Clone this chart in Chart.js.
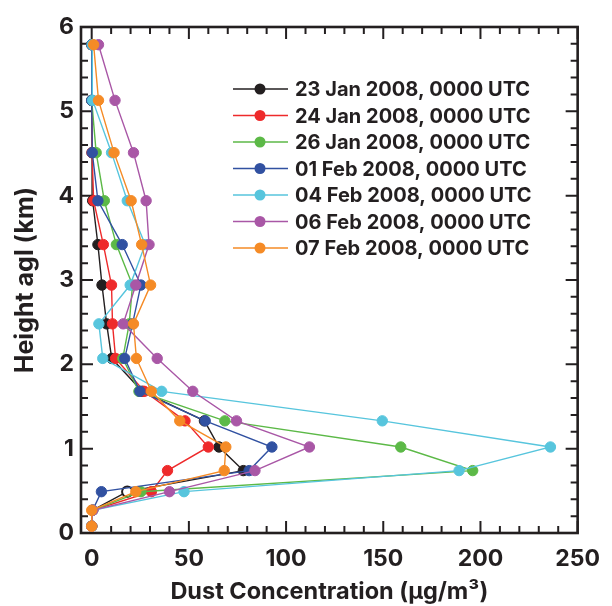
<!DOCTYPE html>
<html>
<head>
<meta charset="utf-8">
<script src="https://cdn.jsdelivr.net/npm/chart.js@4.4.1/dist/chart.umd.min.js"></script>
<style>
  html, body { margin: 0; padding: 0; background: #fff; }
  canvas { display: block; }
</style>
</head>
<body>
<canvas id="chart" width="612" height="606"></canvas>
<script>
// profile levels, km agl
var heights = [0.08, 0.27, 0.49, 0.74, 1.02, 1.33, 1.68, 2.07, 2.48, 2.94, 3.42, 3.94, 4.51, 5.13, 5.79]

// dust concentration (ug/m3) at each level, one list per sounding
var jan23 = [0, 0.5, 18.3, 78, 65.5, 58, 26, 10.3, 7.7, 5.3, 3.2, 0.5, 0.2, 0, 0]
var jan24 = [0, 0.5, 30.7, 39, 60, 48, 27, 12.3, 10.7, 10.2, 6, 1, 0.2, 0, 0]
var jan26 = [0, 0.5, 25.3, 196, 159, 68.5, 24.3, 16, 19.3, 21, 12.7, 6.5, 2.3, 0, 0]
var feb01 = [0, 0.5, 5, 81, 92.7, 58.4, 24.8, 17, 21, 25.3, 15.7, 3.2, 0.3, 0, 0]
var feb04 = [0, 0.5, 47.5, 189, 236, 149.5, 36, 5.7, 3.7, 19.8, 27.5, 18.3, 10.2, 0.5, 0.3]
var feb06 = [0, 0.5, 40, 84, 112, 74.5, 52, 33.7, 16.2, 22.7, 29.5, 28, 21.5, 12, 3.5]
var feb07 = [0, 0, 22.7, 68.2, 69, 45.3, 30.7, 23, 21.5, 30.3, 25.7, 20.3, 11.5, 3.5, 1]

var series = [jan23, jan24, jan26, feb01, feb04, feb06, feb07]
var labels = [
	'23 Jan 2008, 0000 UTC',
	'24 Jan 2008, 0000 UTC',
	'26 Jan 2008, 0000 UTC',
	'01 Feb 2008, 0000 UTC',
	'04 Feb 2008, 0000 UTC',
	'06 Feb 2008, 0000 UTC',
	'07 Feb 2008, 0000 UTC',
]
var colors = ['#231f20', '#ee2a2b', '#5cb947', '#3151a1', '#57c5dd', '#a957a6', '#f58b26']

var xTicks = [0, 50, 100, 150, 200, 250]
var yTicks = [0, 1, 2, 3, 4, 5, 6]

var FONT = "'Inter', 'Liberation Sans', Arial, sans-serif"
var INK = '#231f20'

// black sounding has one hollow marker at 0.49 km
function pointFill(color, i) {
	return function (c) {
		return i === 0 && c.dataIndex === 2 ? '#ffffff' : color
	}
}

var datasets = series.map(function (vals, i) {
	return {
		label: labels[i],
		data: vals.map(function (v, k) { return { x: v, y: heights[k] } }),
		showLine: true,
		borderColor: colors[i],
		borderWidth: 1.4,
		pointRadius: 5.2,
		pointBackgroundColor: pointFill(colors[i], i),
		pointBorderColor: colors[i],
		pointBorderWidth: function (c) { return i === 0 && c.dataIndex === 2 ? 2 : 1 },
		order: series.length - i,
	}
})

// box around the plot with inward ticks on all four sides
var framePlugin = {
	id: 'frame',
	beforeDatasetsDraw: function (chart) {
		var ctx = chart.ctx, a = chart.chartArea
		var xs = chart.scales.x, ys = chart.scales.y
		ctx.save()
		ctx.strokeStyle = INK
		ctx.lineWidth = 2
		ctx.beginPath()
		for (var v = 0; v <= 250; v += 10) {
			var px = xs.getPixelForValue(v)
			var len = v % 50 === 0 ? 12 : 7
			ctx.moveTo(px, a.bottom); ctx.lineTo(px, a.bottom - len)
			ctx.moveTo(px, a.top); ctx.lineTo(px, a.top + len)
		}
		for (var k = 0; k <= 30; k++) {
			var py = ys.getPixelForValue(k / 5)
			var ln = k % 5 === 0 ? 12 : 7
			ctx.moveTo(a.left, py); ctx.lineTo(a.left + ln, py)
			ctx.moveTo(a.right, py); ctx.lineTo(a.right - ln, py)
		}
		ctx.stroke()
		ctx.lineWidth = 2.6
		ctx.strokeRect(a.left, a.top, a.right - a.left, a.bottom - a.top)
		ctx.restore()
	},
}

// legend inside the plot: short line with a marker, then the label
var legendPlugin = {
	id: 'insideLegend',
	afterDatasetsDraw: function (chart) {
		var ctx = chart.ctx
		ctx.save()
		ctx.font = 'bold 20px ' + FONT
		ctx.textBaseline = 'middle'
		ctx.textAlign = 'left'
		for (var i = 0; i < labels.length; i++) {
			var y = 89 + i * 26.5
			ctx.strokeStyle = colors[i]
			ctx.lineWidth = 1.4
			ctx.beginPath()
			ctx.moveTo(233, y); ctx.lineTo(288, y)
			ctx.stroke()
			ctx.fillStyle = colors[i]
			ctx.beginPath()
			ctx.arc(260, y, 5.5, 0, Math.PI * 2)
			ctx.fill()
			ctx.fillStyle = INK
			ctx.fillText(labels[i], 295, y + 1)
		}
		ctx.restore()
	},
}

var tickFont = { family: FONT, size: 23, weight: 'bold' }

new Chart(document.getElementById('chart').getContext('2d'), {
	type: 'scatter',
	data: { datasets: datasets },
	options: {
		responsive: false,
		animation: false,
		layout: { autoPadding: false, padding: { top: 27, right: 24, left: 0, bottom: 0 } },
		plugins: { legend: { display: false }, tooltip: { enabled: false } },
		scales: {
			x: {
				type: 'linear',
				min: -5.5,
				max: 250,
				afterFit: function (s) { s.height = 73 },
				afterBuildTicks: function (s) { s.ticks = xTicks.map(function (v) { return { value: v } }) },
				grid: { display: false, drawTicks: false },
				border: { display: false },
				ticks: { color: INK, font: tickFont, padding: 12, maxRotation: 0 },
				title: {
					display: true, text: 'Dust Concentration (\u00b5g/m\u00b3)', color: INK,
					font: { family: FONT, size: 23.5, weight: 'bold' }, padding: { top: 0, bottom: 0 },
				},
			},
			y: {
				type: 'linear',
				min: 0,
				max: 6,
				afterFit: function (s) { s.width = 81 },
				afterBuildTicks: function (s) { s.ticks = yTicks.map(function (v) { return { value: v } }) },
				grid: { display: false, drawTicks: false },
				border: { display: false },
				ticks: { color: INK, font: tickFont, padding: 7 },
				title: {
					display: true, text: 'Height agl (km)', color: INK,
					font: { family: FONT, size: 25, weight: 'bold' }, padding: { top: 10, bottom: 0 },
				},
			},
		},
	},
	plugins: [framePlugin, legendPlugin],
})
</script>
</body>
</html>
